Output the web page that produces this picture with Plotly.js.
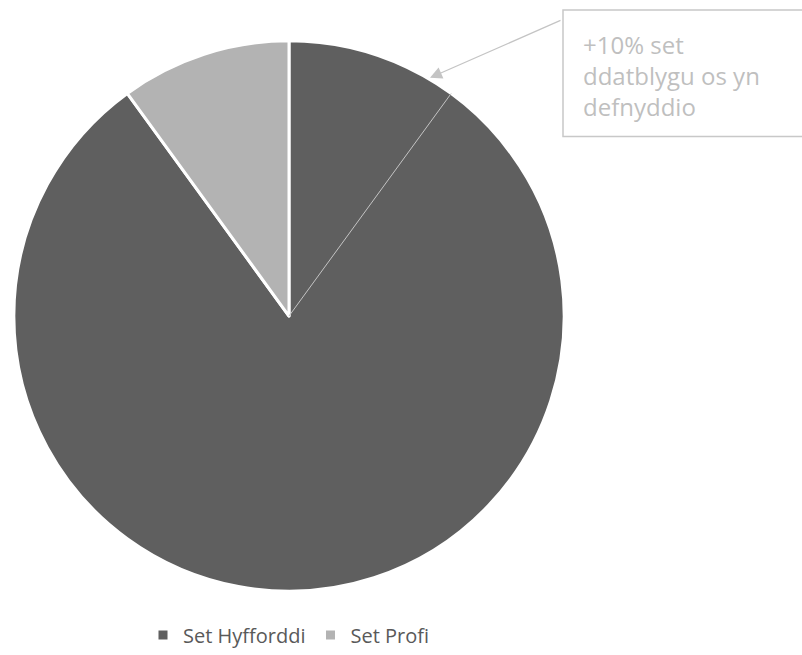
<!DOCTYPE html>
<html>
<head>
<meta charset="utf-8">
<script src="https://cdn.plot.ly/plotly-3.0.1.min.js"></script>
<style>html,body{margin:0;padding:0;background:#fff;}#chart{width:802px;height:655px;}</style>
</head>
<body>
<div id="chart"></div>
<script>
const labels = ["Set Hyfforddi", "Set Profi"];
const values = [90, 10];
const colors = ["#5f5f5f", "#b3b3b3"];
const calloutText = "+10% set<br>ddatblygu os yn<br>defnyddio";
const calloutShare = 10; // percent marked by the thin line

const W = 802, H = 655;
const cx = 289, cy = 317, R = 276;
const dom = {x: [(cx - R) / W, (cx + R) / W], y: [1 - (cy + R) / H, 1 - (cy - R) / H]};

const ang = calloutShare / 100 * 2 * Math.PI;
const ex = cx + R * Math.sin(ang), ey = cy - R * Math.cos(ang);

const data = [{
  type: "pie",
  labels: labels,
  values: values,
  sort: false,
  direction: "clockwise",
  rotation: 0,
  textinfo: "none",
  hoverinfo: "none",
  marker: {colors: colors, line: {color: "#ffffff", width: 3}},
  domain: dom
}];

const layout = {
  width: W, height: H,
  margin: {l: 0, r: 0, t: 0, b: 0},
  paper_bgcolor: "#ffffff",
  font: {family: "Open Sans, sans-serif", color: "#595959"},
  showlegend: true,
  legend: {orientation: "h", x: cx / W, xanchor: "center", y: 1 - 637 / H, yanchor: "middle",
           font: {size: 20, color: "#595959"}, itemwidth: 30},
  shapes: [
    {type: "line", xref: "paper", yref: "paper", x0: cx / W, y0: 1 - cy / H, x1: ex / W, y1: 1 - ey / H,
     line: {color: "#c4c4c4", width: 1}},
    {type: "rect", xref: "paper", yref: "paper", x0: 563 / W, x1: 1.05, y0: 1 - 137 / H, y1: 1 - 10 / H,
     line: {color: "#c8c8c8", width: 1.5}, fillcolor: "rgba(0,0,0,0)"}
  ],
  annotations: [
    {xref: "paper", yref: "paper", x: 581 / W, y: 1 - 26 / H, xanchor: "left", yanchor: "top",
     text: calloutText, showarrow: false, align: "left",
     font: {size: 24, color: "#bfbfbf", family: "Open Sans, sans-serif"}},
    {xref: "paper", yref: "paper", x: 430 / W, y: 1 - 78 / H, text: "", showarrow: true,
     ax: 132, ay: -58, arrowhead: 2, arrowsize: 2, arrowwidth: 1.2, arrowcolor: "#c4c4c4"}
  ]
};

Plotly.newPlot("chart", data, layout, {displayModeBar: false, staticPlot: true});
</script>
</body>
</html>
